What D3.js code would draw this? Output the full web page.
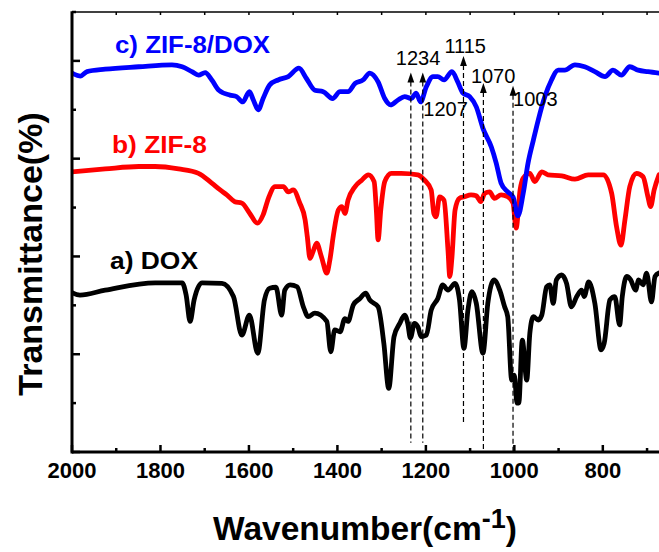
<!DOCTYPE html>
<html>
<head>
<meta charset="utf-8">
<script src="https://cdn.jsdelivr.net/npm/d3@7/dist/d3.min.js"></script>
<style>
  html, body { margin: 0; padding: 0; background: #fff; }
  svg { display: block; font-family: "Liberation Sans", Arial, sans-serif; }
</style>
</head>
<body>
<svg id="chart" width="659" height="552"></svg>
<script>
// ---------- DATA ----------
// a) DOX
const doxWn = [2000,1982,1925,1812,1751,1742,1733,1724,1706,1661,1635,1616,1599,1580,1565,1553,1539,1526,1519,1507,1491,1477,1466,1451,1424,1415,1406,1394,1383,1376,1364,1349,1336,1327,1308,1295,1284,1272,1259,1248,1241,1235,1226,1218,1211,1199,1188,1173,1162,1150,1134,1124,1114,1105,1096,1086,1071,1060,1046,1033,1022,1015,1006,1000,994,990,982,972,965,957,946,938,927,920,912,905,893,882,871,859,848,842,832,818,804,797,784,773,762,756,746,737,726,719,709,701,690,682,673];
const doxT  = [32.6,32.1,33.1,34.6,34.6,32.1,26.7,31.1,34.6,34.5,31.8,23.9,28.0,20.2,31.1,33.5,33.7,28.0,33.1,34.2,33.8,29.7,27.7,28.4,26.7,20.5,25.0,24.6,27.3,26.7,30.1,31.4,32.5,31.1,29.7,22.2,13.0,23.6,26.3,28.0,26.3,23.3,26.3,25.6,23.6,23.9,29.0,31.4,34.2,33.1,34.5,31.1,21.2,29.0,32.8,30.4,20.2,30.4,35.2,33.1,29.7,27.7,14.7,15.7,10.0,10.0,22.9,14.7,24.3,27.7,27.0,28.0,33.8,34.2,30.4,35.2,36.2,34.5,29.7,31.8,33.1,31.8,34.8,30.4,20.9,22.2,31.1,31.8,26.0,31.8,35.9,35.2,33.1,35.2,34.2,36.6,30.7,35.9,36.6];

// b) ZIF-8
const zifWn = [2000,1925,1849,1812,1759,1714,1684,1665,1650,1632,1616,1598,1581,1568,1556,1541,1522,1511,1500,1485,1473,1468,1462,1455,1447,1436,1424,1417,1409,1398,1390,1383,1376,1360,1345,1330,1317,1312,1308,1302,1293,1278,1256,1218,1203,1188,1182,1177,1169,1159,1150,1146,1141,1134,1124,1113,1098,1086,1076,1067,1056,1045,1030,1015,1003,996,987,980,965,954,938,924,893,863,833,799,780,769,759,750,739,724,709,698,692,684,673];
const zifT  = [57.3,57.9,58.4,58.4,57.9,57.0,55.0,53.6,52.6,51.2,50.9,48.8,46.8,48.5,51.9,54.3,54.3,53.2,53.6,50.9,47.5,44.0,39.6,41.0,42.7,39.9,36.6,39.3,44.4,49.5,50.2,48.8,51.5,54.3,55.6,56.7,55.3,49.5,43.4,49.5,55.3,57.0,57.0,56.7,55.6,53.6,48.8,48.1,52.2,51.5,41.3,35.9,39.9,49.5,51.9,52.2,52.6,52.4,51.2,52.9,53.2,51.9,52.6,52.2,50.9,45.8,53.6,56.0,57.0,55.3,57.3,56.7,56.5,55.8,56.7,56.7,52.9,46.1,42.3,47.5,54.3,57.0,56.3,52.2,50.2,53.6,56.7];

// c) ZIF-8/DOX
const zdWn = [2000,1981,1966,1925,1849,1774,1751,1729,1714,1699,1684,1668,1643,1628,1614,1599,1590,1579,1568,1553,1534,1511,1487,1470,1451,1432,1411,1394,1376,1360,1342,1327,1308,1293,1280,1263,1248,1233,1222,1212,1199,1184,1173,1159,1141,1128,1116,1101,1086,1071,1052,1041,1030,1015,1003,992,980,969,957,946,931,916,901,886,863,841,818,795,777,758,739,720,698,673];
const zdT  = [77.5,76.9,77.8,78.3,78.8,79.2,78.8,77.8,77.1,77.6,76.1,74.0,73.0,72.7,71.6,73.7,72.0,70.0,72.3,75.1,76.1,76.8,78.5,76.4,74.0,73.7,72.3,73.7,73.7,75.4,76.1,77.5,75.7,72.3,71.0,72.0,72.7,72.3,73.4,71.6,74.7,76.8,76.8,76.1,77.8,75.7,73.4,72.7,70.6,66.2,62.4,59.1,55.0,53.2,52.2,48.3,52.9,59.1,63.8,67.9,72.7,76.1,78.1,78.1,79.2,78.8,77.8,76.8,78.1,77.1,78.8,78.1,77.8,77.5];

const seriesNames = ["a) DOX", "b) ZIF-8", "c) ZIF-8/DOX"];
const seriesColors = ["#000000", "#ff0000", "#0000ff"];

const xTickLabels = [2000, 1800, 1600, 1400, 1200, 1000, 800];
const peakWn = [1234, 1207, 1115, 1070, 1003];
const peakLabels = ["1234", "1207", "1115", "1070", "1003"];

// ---------- LAYOUT ----------
const svg = d3.select("#chart");
const L = 72, R = 659, T = 12, B = 452;

const x = d3.scaleLinear().domain([2000, 673]).range([L, R]);
const y = d3.scaleLinear().domain([0, 90]).range([B, T]);

// clip
svg.append("defs").append("clipPath").attr("id", "clip")
  .append("rect").attr("x", L).attr("y", T - 5).attr("width", R - L + 5).attr("height", B - T + 5);

// curves
const series = [
  {wn: doxWn, t: doxT},
  {wn: zifWn, t: zifT},
  {wn: zdWn, t: zdT}
];
const line = d3.line()
  .x(d => x(d[0])).y(d => y(d[1]))
  .curve(d3.curveMonotoneX);

const g = svg.append("g").attr("clip-path", "url(#clip)");
series.forEach((s, i) => {
  const pts = s.wn.map((w, j) => [w, s.t[j]]);
  g.append("path").datum(pts)
    .attr("d", line)
    .attr("fill", "none")
    .attr("stroke", seriesColors[i])
    .attr("stroke-width", 4.8)
    .attr("stroke-linejoin", "round")
    .attr("stroke-linecap", "round");
});

// annotations: dashed lines with arrow heads
const annLayout = [
  {tip: 77.6, bottom: 1.9, lx: -15, ly: 65},
  {tip: 77.6, bottom: 1.9, lx: 0.5, ly: 116},
  {tip: 81.0, bottom: 5.5, lx: -19, ly: 52.7},
  {tip: 75.5, bottom: 0,   lx: -12.5, ly: 82.7},
  {tip: 74.9, bottom: 0,   lx: 0, ly: 106}
];
const ann = svg.append("g");
peakWn.forEach((w, i) => {
  const a = annLayout[i];
  const px = x(w);
  const ty = y(a.tip);
  ann.append("line")
    .attr("x1", px).attr("x2", px)
    .attr("y1", ty + 9).attr("y2", y(a.bottom))
    .attr("stroke", "#000").attr("stroke-width", 1.2)
    .attr("stroke-dasharray", "5,3");
  ann.append("path")
    .attr("d", `M${px},${ty} L${px - 3.4},${ty + 10} L${px + 3.4},${ty + 10} Z`)
    .attr("fill", "#000");
  ann.append("text")
    .attr("x", px + a.lx).attr("y", a.ly)
    .attr("font-size", 20)
    .attr("fill", "#000")
    .text(peakLabels[i]);
});

// axes
const axes = svg.append("g");
axes.append("line").attr("x1", L).attr("x2", R).attr("y1", T).attr("y2", T)
  .attr("stroke", "#000").attr("stroke-width", 1.5);
d3.range(2000, 672, -100).forEach(v => {
  axes.append("line").attr("x1", x(v)).attr("x2", x(v)).attr("y1", T).attr("y2", T + 3)
    .attr("stroke", "#000").attr("stroke-width", 1.5);
});
d3.range(2000, 672, -100).forEach(v => {
  const major = v % 200 === 0;
  axes.append("line").attr("x1", x(v)).attr("x2", x(v))
    .attr("y1", B).attr("y2", B - (major ? 7 : 4))
    .attr("stroke", "#000").attr("stroke-width", 2.5);
});
d3.range(0, 91, 10).forEach(v => {
  const major = v % 20 === 0;
  axes.append("line").attr("x1", L).attr("x2", L + (major ? 8 : 4))
    .attr("y1", y(v)).attr("y2", y(v))
    .attr("stroke", "#000").attr("stroke-width", 2.5);
});
axes.append("line").attr("x1", L).attr("x2", R).attr("y1", B).attr("y2", B)
  .attr("stroke", "#000").attr("stroke-width", 3);
axes.append("line").attr("x1", L).attr("x2", L).attr("y1", T - 0.75).attr("y2", B + 1.5)
  .attr("stroke", "#000").attr("stroke-width", 3);

xTickLabels.forEach(v => {
  axes.append("text").attr("x", x(v)).attr("y", 478)
    .attr("text-anchor", "middle").attr("font-size", 22).attr("font-weight", "bold")
    .text(v);
});

// axis titles
const xt = svg.append("text").attr("x", 213).attr("y", 540)
  .attr("font-size", 33.5).attr("font-weight", "bold");
xt.append("tspan").text("Wavenumber(cm");
xt.append("tspan").attr("font-size", 27).attr("dy", -12).text("-1");
xt.append("tspan").attr("dy", 12).text(")");

svg.append("text")
  .attr("transform", "translate(42,254) rotate(-90)")
  .attr("text-anchor", "middle")
  .attr("font-size", 34).attr("font-weight", "bold")
  .text("Transmittance(%)");

// series labels
const legendLayout = [
  {x: 110, y: 269, len: 88},
  {x: 112, y: 153, len: 95},
  {x: 115, y: 53, len: 155}
];
seriesNames.forEach((n, i) => {
  const l = legendLayout[i];
  svg.append("text").attr("x", l.x).attr("y", l.y)
    .attr("font-size", 23).attr("font-weight", "bold")
    .attr("fill", seriesColors[i])
    .attr("textLength", l.len).attr("lengthAdjust", "spacingAndGlyphs")
    .text(n);
});
</script>
</body>
</html>
